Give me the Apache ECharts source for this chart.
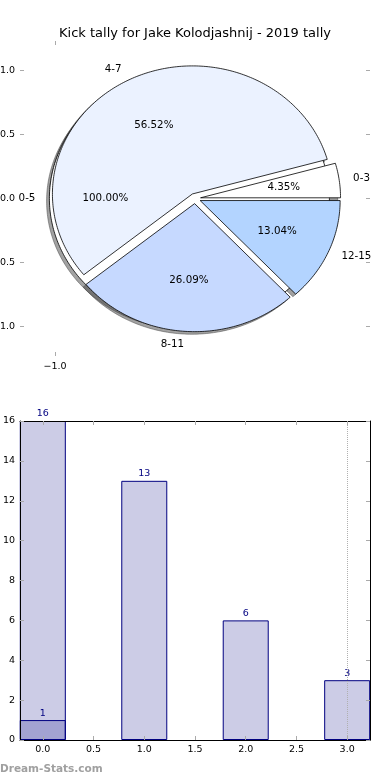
<!DOCTYPE html>
<html>
<head>
<meta charset="utf-8">
<script src="https://cdn.jsdelivr.net/npm/echarts@6/dist/echarts.min.js"></script>
<style>html,body{margin:0;padding:0;background:#fff;}#chart{width:390px;height:780px;}</style>
</head>
<body>
<div id="chart"></div>
<script>
// ---- data ----
const chartTitle = 'Kick tally for Jake Kolodjashnij - 2019 tally';
const outerPieLabels = ['0-5'];
const outerPieValues = [1];
const innerPieLabels = ['0-3', '4-7', '8-11', '12-15'];
const innerPieValues = [1, 13, 6, 3];
const barPositions = [0, 1, 2, 3];
const barValues = [16, 13, 6, 3];
const overlayPositions = [0];
const overlayValues = [1];
const pieYTickValues = [-1, -0.5, 0, 0.5, 1];
const pieXTickValues = [-1];
const barXTickValues = [0, 0.5, 1, 1.5, 2, 2.5, 3];
const watermark = 'Dream-Stats.com';

// ---- styles ----
const FONT = 'DejaVu Sans';
const outerColors = ['#ffffff'];
const innerColors = ['#ffffff', '#ebf2ff', '#c6d9ff', '#b3d4ff'];
const EXPLODE = 0.04, SHX = -0.02, SHY = -0.02, LABEL_D = 1.1, PCT_D = 0.6;

function buildWedges(labels, values, colors) {
  const total = values.reduce((a, b) => a + b, 0);
  let t = 0;
  return values.map((v, i) => {
    const t1 = t, t2 = t + 360 * v / total;
    t = t2;
    return { label: labels[i], pct: v / total * 100, t1, t2, color: colors[i] };
  });
}
const outerWedges = buildWedges(outerPieLabels, outerPieValues, outerColors);
const innerWedges = buildWedges(innerPieLabels, innerPieValues, innerColors);
const allWedges = outerWedges.concat(innerWedges);

function wedgeCenter(w) {
  const mid = (w.t1 + w.t2) / 2 * Math.PI / 180;
  return [EXPLODE * Math.cos(mid), EXPLODE * Math.sin(mid), mid];
}
function wedgePoints(api, w, dx, dy) {
  const c = wedgeCenter(w);
  const cx = c[0] + dx, cy = c[1] + dy;
  const full = (w.t2 - w.t1) >= 359.999;
  const pts = [];
  if (!full) pts.push(api.coord([cx, cy]));
  const n = Math.max(4, Math.ceil(w.t2 - w.t1));
  for (let k = 0; k <= n; k++) {
    const t = (w.t1 + (w.t2 - w.t1) * k / n) * Math.PI / 180;
    pts.push(api.coord([cx + Math.cos(t), cy + Math.sin(t)]));
  }
  return pts;
}
function wedgeSeries(list, isShadow, name) {
  return {
    type: 'custom', name: name, xAxisIndex: 0, yAxisIndex: 0, silent: true,
    data: list.map(() => [0, 0]),
    renderItem: function (params, api) {
      const w = list[params.dataIndex];
      if (isShadow) {
        return { type: 'polygon', shape: { points: wedgePoints(api, w, SHX, SHY) },
          style: { fill: 'rgba(70,70,70,0.5)', stroke: 'rgba(70,70,70,0.5)', lineWidth: 1 } };
      }
      return { type: 'polygon', shape: { points: wedgePoints(api, w, 0, 0) },
        style: { fill: w.color, stroke: '#000', lineWidth: 0.8 } };
    }
  };
}
const labelSeries = {
  type: 'custom', xAxisIndex: 0, yAxisIndex: 0, silent: true,
  data: allWedges.map(() => [0, 0]),
  renderItem: function (params, api) {
    const w = allWedges[params.dataIndex];
    const c = wedgeCenter(w);
    const lx = c[0] + LABEL_D * Math.cos(c[2]), ly = c[1] + LABEL_D * Math.sin(c[2]);
    const px = c[0] + PCT_D * Math.cos(c[2]), py = c[1] + PCT_D * Math.sin(c[2]);
    const lp = api.coord([lx, ly]), pp = api.coord([px, py]);
    return { type: 'group', children: [
      { type: 'text', x: lp[0], y: lp[1], style: { text: w.label, fill: '#000', font: '10.3px ' + FONT,
        align: lx < 0 ? 'right' : 'left', verticalAlign: 'middle' } },
      { type: 'text', x: pp[0], y: pp[1], style: { text: w.pct.toFixed(2) + '%', fill: '#000', font: '10.3px ' + FONT,
        align: 'center', verticalAlign: 'middle' } }
    ] };
  }
};

const tickStyle = { color: '#aaaaaa', width: 1 };
const labelFont = { fontFamily: FONT, fontSize: 9.5, color: '#000' };
const fmtMinus = v => (v < 0 ? '\u2212' : '') + Math.abs(v).toFixed(1);
const hiddenLine = { show: false, onZero: false };
const blackLine = { show: true, onZero: false, lineStyle: { color: '#000', width: 1 } };

const chart = echarts.init(document.getElementById('chart'), null, { renderer: 'canvas' });
chart.setOption({
  animation: false,
  backgroundColor: '#fff',
  title: { text: chartTitle, left: 'center', top: 22,
    textStyle: { fontFamily: FONT, fontSize: 13, fontWeight: 'normal', color: '#000' } },
  graphic: [{ type: 'text', left: 0, top: 764, style: { text: watermark, font: 'bold 10.5px ' + FONT, fill: '#a0a0a0' } }],
  grid: [
    { left: 20, right: 20, top: 41, height: 315, containLabel: false, outerBoundsMode: 'none' },
    { left: 20, right: 20, top: 421, height: 319, containLabel: false, outerBoundsMode: 'none' }
  ],
  xAxis: [
    { gridIndex: 0, type: 'value', min: -1.25, max: 1.25, position: 'bottom',
      axisLine: hiddenLine, splitLine: { show: false },
      axisTick: { show: true, inside: true, length: 4, lineStyle: tickStyle, customValues: pieXTickValues },
      axisLabel: { ...labelFont, margin: 6, customValues: pieXTickValues, formatter: fmtMinus } },
    { gridIndex: 0, type: 'value', min: -1.25, max: 1.25, position: 'top',
      axisLine: hiddenLine, splitLine: { show: false }, axisLabel: { show: false },
      axisTick: { show: true, inside: true, length: 4, lineStyle: tickStyle, customValues: pieXTickValues } },
    { gridIndex: 1, type: 'value', min: -0.225, max: 3.225, position: 'bottom', z: 10,
      axisLine: blackLine, splitLine: { show: false },
      axisTick: { show: true, inside: true, length: 4, lineStyle: tickStyle, customValues: barXTickValues },
      axisLabel: { ...labelFont, margin: 5, customValues: barXTickValues, formatter: v => v.toFixed(1) } },
    { gridIndex: 1, type: 'value', min: -0.225, max: 3.225, position: 'top', z: 10,
      axisLine: blackLine, splitLine: { show: false },
      axisLabel: { show: false },
      axisTick: { show: true, inside: true, length: 4, lineStyle: tickStyle, customValues: barXTickValues } }
  ],
  yAxis: [
    { gridIndex: 0, type: 'value', min: -1.23, max: 1.23, position: 'left',
      axisLine: hiddenLine, splitLine: { show: false },
      axisTick: { show: true, inside: true, length: 4, lineStyle: tickStyle, customValues: pieYTickValues.filter(v => v !== 0) },
      axisLabel: { ...labelFont, margin: 5, customValues: pieYTickValues, formatter: fmtMinus } },
    { gridIndex: 0, type: 'value', min: -1.23, max: 1.23, position: 'right',
      axisLine: hiddenLine, splitLine: { show: false }, axisLabel: { show: false },
      axisTick: { show: true, inside: true, length: 4, lineStyle: tickStyle, customValues: pieYTickValues } },
    { gridIndex: 1, type: 'value', min: 0, max: 16, interval: 2, position: 'left', z: 10,
      axisLine: blackLine, splitLine: { show: false },
      axisTick: { show: true, inside: true, length: 4, lineStyle: tickStyle },
      axisLabel: { ...labelFont, margin: 5 } },
    { gridIndex: 1, type: 'value', min: 0, max: 16, interval: 2, position: 'right', z: 10,
      axisLine: blackLine, splitLine: { show: false },
      axisLabel: { show: false },
      axisTick: { show: true, inside: true, length: 4, lineStyle: tickStyle } }
  ],
  series: [
    wedgeSeries(allWedges, true, 'shadows'),
    wedgeSeries(outerWedges, false, 'outer'),
    wedgeSeries(innerWedges, false, 'inner'),
    labelSeries,
    { type: 'bar', xAxisIndex: 2, yAxisIndex: 2, barWidth: 46, barGap: '-100%',
      data: barPositions.map((x, i) => [x, barValues[i]]),
      itemStyle: { color: 'rgba(0,0,128,0.2)', borderColor: '#000080', borderWidth: 1 },
      label: { show: true, position: 'top', distance: 2, color: '#000080', fontFamily: FONT, fontSize: 9.5 },
      markLine: { silent: true, symbol: 'none', label: { show: false },
        lineStyle: { type: 'dotted', color: '#b0b0b0', width: 1 }, data: [{ xAxis: 3 }] } },
    { type: 'bar', xAxisIndex: 2, yAxisIndex: 2, barWidth: 46, barGap: '-100%',
      data: overlayPositions.map((x, i) => [x, overlayValues[i]]),
      itemStyle: { color: 'rgba(0,0,128,0.2)', borderColor: '#000080', borderWidth: 1 },
      label: { show: true, position: 'top', distance: 2, color: '#000080', fontFamily: FONT, fontSize: 9.5 } }
  ]
});
</script>
</body>
</html>
